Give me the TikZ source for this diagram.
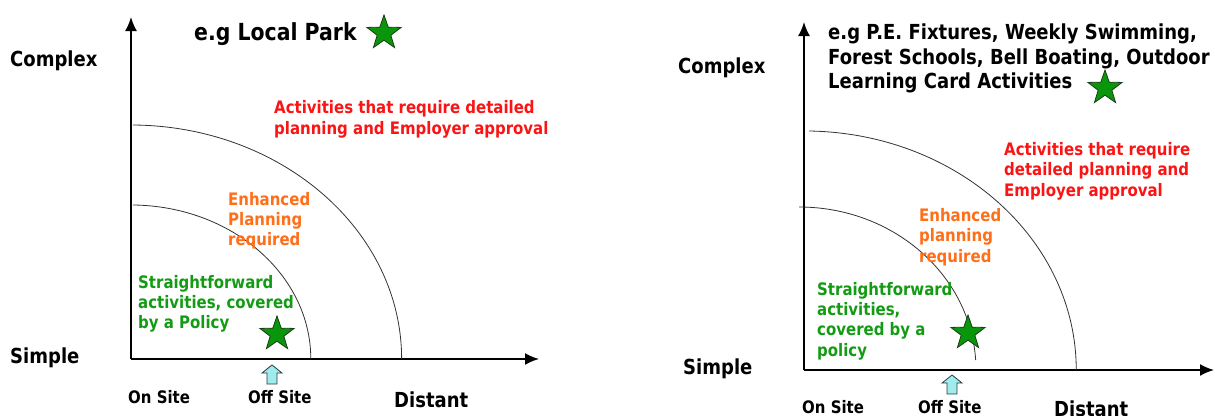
\documentclass[tikz,border=0pt]{standalone}
\usepackage{fontspec}
\setmainfont{DejaVu Sans}[FakeStretch=0.87]
\usetikzlibrary{shapes.geometric,arrows.meta}
\definecolor{txtred}{RGB}{250,20,20}
\definecolor{txtorange}{RGB}{255,110,25}
\definecolor{txtgreen}{RGB}{20,155,20}
\definecolor{starfill}{RGB}{10,150,10}
\definecolor{starline}{RGB}{25,60,25}
\definecolor{arrowfill}{RGB}{160,235,235}
\definecolor{arrowline}{RGB}{40,60,70}
\definecolor{arcline}{RGB}{50,50,50}
\begin{document}
\begin{tikzpicture}[x=1pt,y=-1pt,
  axis/.style={line width=1.8pt,-{Latex[length=14pt,width=12pt]}},
  zone/.style={draw=arcline,line width=0.8pt},
  lbl/.style={anchor=north west,inner sep=0pt,font=\bfseries\fontsize{17.2}{20}\selectfont,align=left},
  biglbl/.style={anchor=north west,inner sep=0pt,font=\bfseries\fontsize{20.7}{24.5}\selectfont,align=left},
  greenstar/.style={star,star points=5,star point ratio=2.5,minimum size=36pt,inner sep=0pt,fill=starfill,draw=starline,line width=0.8pt},
  uparrow/.style={fill=arrowfill,draw=arrowline,line width=0.8pt,line join=miter}
]
\useasboundingbox (0,0) rectangle (1215,415);

% ---------------- left chart ----------------
\coordinate (oL) at (131,359);
\coordinate (yL) at (131,17);
\coordinate (xL) at (539,359);
\draw[axis] (oL) -- (yL);
\draw[axis] (oL) -- (xL);
\coordinate (iL) at (133,205);
\coordinate (uL) at (133,125);
\draw[zone] (iL) arc[start angle=-89.3,end angle=0,x radius=180,y radius=154];
\draw[zone] (uL) arc[start angle=-89.5,end angle=0,x radius=271,y radius=234];

\node[biglbl] (cxL) at (10,51) {Complex};
\node[biglbl] (smL) at (10,348) {Simple};
\node[anchor=north west,inner sep=0pt,font=\bfseries\fontsize{23.5}{24}\selectfont] (egL) at (194,22) {e.g Local Park};
\node[greenstar] (s1L) at (384,33) {};
\node[lbl,text=txtred,font=\bfseries\fontsize{17.2}{21}\selectfont] (rdL) at (274,100) {Activities that require detailed\\planning and Employer approval};
\node[lbl,text=txtorange] (orL) at (228,192) {Enhanced\\Planning\\required};
\node[lbl,text=txtgreen] (grL) at (138,275) {Straightforward\\activities, covered\\by a Policy};
\node[greenstar] (s2L) at (277,334) {};
\draw[uparrow] (272,365) -- (282,373) -- (277,373) -- (277,384) -- (267,384) -- (267,373) -- (262,373) -- cycle;
\node[lbl] (onL) at (128,390) {On Site};
\node[lbl] (ofL) at (248,390) {Off Site};
\node[biglbl] (dsL) at (394,392) {Distant};

% ---------------- right chart ----------------
\coordinate (oR) at (804,370);
\coordinate (yR) at (804,22);
\coordinate (xR) at (1214,370);
\draw[axis] (oR) -- (yR);
\draw[axis] (oR) -- (xR);
\coordinate (iR) at (799,207);
\coordinate (uR) at (809,131);
\draw[zone] (iR) arc[start angle=-90,end angle=-3.5,x radius=177,y radius=163];
\draw[zone] (uR) arc[start angle=-89,end angle=0,x radius=272,y radius=239];

\node[biglbl] (cxR) at (678,58) {Complex};
\node[biglbl] (smR) at (683,359) {Simple};
\node[biglbl] (egR) at (828,24) {e.g P.E. Fixtures, Weekly Swimming,\\Forest Schools, Bell Boating, Outdoor\\Learning Card Activities};
\node[greenstar] (s1R) at (1105,88) {};
\node[lbl,text=txtred,font=\bfseries\fontsize{17.2}{20.5}\selectfont] (rdR) at (1004,142) {Activities that require\\detailed planning and\\Employer approval};
\node[lbl,text=txtorange,font=\bfseries\fontsize{17.2}{20.5}\selectfont] (orR) at (919,208) {Enhanced\\planning\\required};
\node[lbl,text=txtgreen,font=\bfseries\fontsize{17.2}{20.3}\selectfont] (grR) at (817,282) {Straightforward\\activities,\\covered by a\\policy};
\node[greenstar] (s2R) at (968,333) {};
\draw[uparrow] (952,375) -- (962,383) -- (957,383) -- (957,394) -- (947,394) -- (947,383) -- (942,383) -- cycle;
\node[lbl] (onR) at (802,400) {On Site};
\node[lbl] (ofR) at (918,400) {Off Site};
\node[biglbl] (dsR) at (1054,401) {Distant};
\end{tikzpicture}
\end{document}
